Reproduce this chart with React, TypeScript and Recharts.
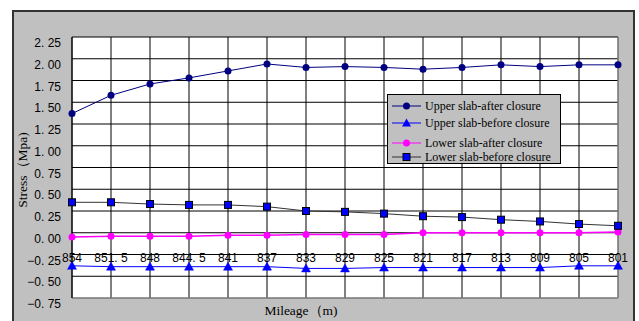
import React from "react";
import { LineChart, Line, XAxis, YAxis, CartesianGrid, Label, ReferenceLine } from "recharts";

const categories = ["854", "851.5", "848", "844.5", "841", "837", "833", "829", "825", "821", "817", "813", "809", "805", "801"];
const upperAfter = [1.37, 1.58, 1.71, 1.78, 1.86, 1.94, 1.9, 1.91, 1.9, 1.88, 1.9, 1.93, 1.91, 1.93, 1.93];
const upperBefore = [-0.38, -0.39, -0.39, -0.39, -0.39, -0.39, -0.41, -0.41, -0.4, -0.4, -0.4, -0.4, -0.4, -0.38, -0.38];
const lowerAfter = [-0.05, -0.04, -0.04, -0.04, -0.03, -0.03, -0.02, -0.02, -0.02, 0.0, 0.0, 0.0, 0.0, 0.0, 0.01];
const lowerBefore = [0.35, 0.35, 0.33, 0.32, 0.32, 0.3, 0.25, 0.24, 0.22, 0.19, 0.18, 0.15, 0.13, 0.1, 0.08];
const yTicks = [-0.75, -0.5, -0.25, 0, 0.25, 0.5, 0.75, 1.0, 1.25, 1.5, 1.75, 2.0, 2.25];
const seriesNames = ["Upper slab-after closure", "Upper slab-before closure", "Lower slab-after closure", "Lower slab-before closure"];

const data = categories.map((c, i) => ({
  name: c,
  ua: upperAfter[i],
  ub: upperBefore[i],
  la: lowerAfter[i],
  lb: lowerBefore[i],
}));

const SANS = '"Liberation Sans", Arial, sans-serif';
const SERIF = '"Liberation Serif", "Times New Roman", serif';

const fmtNum = (s: string) => s.replace(".", ". ").replace("-", "\u2212");

const YTick = (props: any) => {
  const { x, y, payload } = props;
  return (
    <text x={x} y={y} dy={10} textAnchor="end" fontSize={12} fontFamily={SANS} fill="#000">
      {fmtNum(Number(payload.value).toFixed(2))}
    </text>
  );
};

const XTick = (props: any) => {
  const { x, y, payload } = props;
  return (
    <text x={x} y={y} dy={-36} textAnchor="middle" fontSize={12} fontFamily={SANS} fill="#000">
      {fmtNum(String(payload.value))}
    </text>
  );
};

const TriangleDot = (props: any) => {
  const { cx, cy, index } = props;
  if (cx == null || cy == null) return <g key={`t${index}`} />;
  return <path key={`t${index}`} d={`M${cx},${cy - 4.5} L${cx + 4.5},${cy + 3.5} L${cx - 4.5},${cy + 3.5} Z`} fill="#0000FF" stroke="#0000FF" strokeWidth={0.5} />;
};

const SquareDot = (props: any) => {
  const { cx, cy, index } = props;
  if (cx == null || cy == null) return <g key={`s${index}`} />;
  return <rect key={`s${index}`} x={cx - 3.5} y={cy - 3.5} width={7} height={7} fill="#0000FF" stroke="#000" strokeWidth={1} />;
};

const legendRows = [
  { name: seriesNames[0], color: "#000080", marker: "circle", top: 4 },
  { name: seriesNames[1], color: "#0000FF", marker: "triangle", top: 21 },
  { name: seriesNames[2], color: "#FF00FF", marker: "circle", top: 41 },
  { name: seriesNames[3], color: "#333333", marker: "square", top: 55 },
];

const LegendIcon = ({ color, marker }: { color: string; marker: string }) => (
  <svg width={30} height={14} style={{ position: "absolute", left: 4, top: 0 }}>
    <line x1={0} y1={7} x2={29} y2={7} stroke={color} strokeWidth={1} />
    {marker === "circle" && <circle cx={14.5} cy={7} r={3.5} fill={color} />}
    {marker === "triangle" && <path d="M14.5,2.5 L19,10.5 L10,10.5 Z" fill="#0000FF" />}
    {marker === "square" && <rect x={11} y={3.5} width={7} height={7} fill="#0000FF" stroke="#000" strokeWidth={1} />}
  </svg>
);

export default function App() {
  return (
    <div style={{ position: "absolute", left: 0, top: 0, width: 639, height: 321, background: "#fff", overflow: "hidden" }}>
      <div
        style={{
          position: "absolute",
          left: 12,
          top: 10,
          width: 623,
          height: 330,
          boxSizing: "border-box",
          background: "#C0C0C0",
          borderLeft: "2px solid #333",
          borderTop: "2px solid #333",
          borderRight: "2px solid #333",
        }}
      />
      <div style={{ position: "absolute", left: 0, top: 0 }}>
        <LineChart width={639} height={321} data={data} margin={{ top: 37, right: 21, bottom: 0, left: 22 }}>
          <CartesianGrid stroke="#000" strokeWidth={1} fill="#fff" />
          <ReferenceLine y={-0.75} stroke="#b0b0b0" strokeWidth={1} />
          <ReferenceLine x="801" stroke="#a8a8a8" strokeWidth={1} />
          <XAxis
            dataKey="name"
            height={23}
            axisLine={false}
            tickLine={false}
            tickSize={0}
            tickMargin={0}
            interval={0}
            tick={<XTick />}
          >
            <Label
              content={() => (
                <text x={301} y={315} textAnchor="middle" fontSize={13.5} fontFamily={SERIF} fill="#000">
                  Mileage（m)
                </text>
              )}
            />
          </XAxis>
          <YAxis
            type="number"
            width={50}
            domain={[-0.75, 2.25]}
            ticks={yTicks}
            interval={0}
            axisLine={{ stroke: "#000" }}
            tickLine={false}
            tickMargin={5}
            tick={<YTick />}
          >
            <Label
              content={() => (
                <text x={27} y={170} transform="rotate(-90 27 170)" textAnchor="middle" fontSize={13.5} fontFamily={SERIF} fill="#000">
                  Stress（Mpa)
                </text>
              )}
            />
          </YAxis>
          <Line dataKey="ua" name={seriesNames[0]} stroke="#000080" strokeWidth={1} isAnimationActive={false} dot={{ r: 3.5, fill: "#000080", stroke: "#000080", strokeWidth: 0 }} />
          <Line dataKey="ub" name={seriesNames[1]} stroke="#0000FF" strokeWidth={1} isAnimationActive={false} dot={<TriangleDot />} />
          <Line dataKey="la" name={seriesNames[2]} stroke="#FF00FF" strokeWidth={1.5} isAnimationActive={false} dot={{ r: 3.5, fill: "#FF00FF", stroke: "#FF00FF", strokeWidth: 0 }} />
          <Line dataKey="lb" name={seriesNames[3]} stroke="#333333" strokeWidth={1} isAnimationActive={false} dot={<SquareDot />} />
        </LineChart>
      </div>
      <div
        style={{
          position: "absolute",
          left: 387,
          top: 94,
          width: 174,
          height: 70,
          boxSizing: "border-box",
          background: "#C0C0C0",
          border: "1px solid #000",
        }}
      >
        {legendRows.map((r) => (
          <div key={r.name} style={{ position: "absolute", left: 0, top: r.top, height: 14, width: 172 }}>
            <LegendIcon color={r.color} marker={r.marker} />
            <span style={{ position: "absolute", left: 37, top: -1, fontSize: 12, fontFamily: SERIF, whiteSpace: "nowrap", lineHeight: "16px" }}>
              {r.name}
            </span>
          </div>
        ))}
      </div>
    </div>
  );
}
